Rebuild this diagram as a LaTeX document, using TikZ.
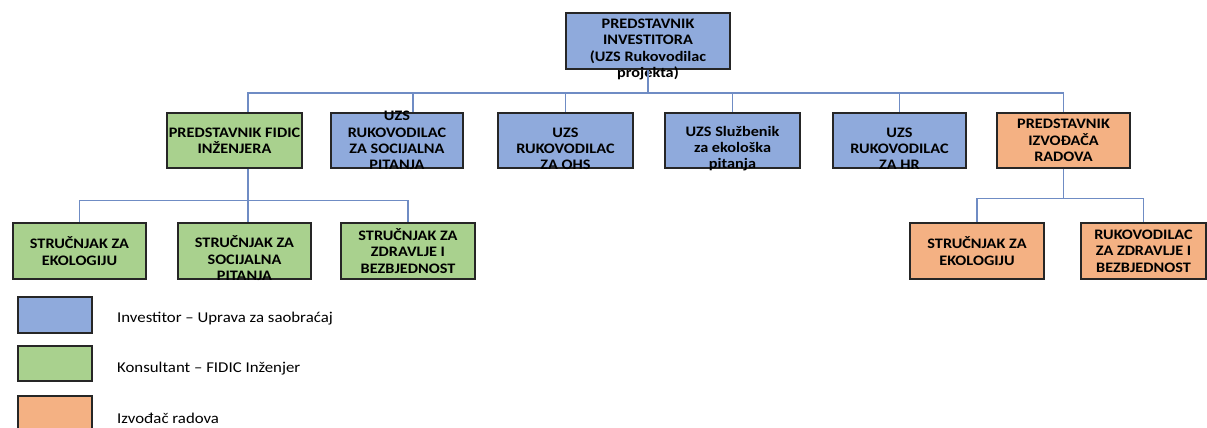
\documentclass[tikz,border=0pt]{standalone}
\usepackage{fontspec}
\setmainfont{Carlito}[FakeStretch=1.12]
\definecolor{invblue}{HTML}{8FAADC}
\definecolor{fidgreen}{HTML}{A9D18E}
\definecolor{izvorange}{HTML}{F4B183}
\definecolor{boxline}{HTML}{262626}
\definecolor{connblue}{HTML}{6F8CC4}
\newcommand{\blankline}{\rule{0pt}{10pt}\\}

\begin{document}
\begin{tikzpicture}[x=1pt,y=-1pt,
    box/.style={draw=boxline, line width=1.6pt, inner sep=0pt, minimum height=56pt},
    boxtext/.style={inner sep=0pt, align=center, font=\fontsize{14.5}{16.3}\selectfont\bfseries},
    txt/.style={label={[boxtext]center:{#1}}},
    invbox/.style={box, fill=invblue},
    fidbox/.style={box, fill=fidgreen},
    izvbox/.style={box, fill=izvorange},
    conn/.style={draw=connblue, line width=1.4pt},
    legtext/.style={anchor=west, inner sep=0pt, font=\fontsize{15}{17}\selectfont}]
  \useasboundingbox (0,0) rectangle (1207,428);

  % top
  \node [invbox, minimum width=164pt, txt={\blankline PREDSTAVNIK\\INVESTITORA\\(UZS Rukovodilac\\projekta)}]
    (inv) at (648,41) {};

  % second row
  \node [fidbox, minimum width=135pt, minimum height=55pt, txt={PREDSTAVNIK FIDIC\\INŽENJERA}]
    (fidic) at (234.5,140.5) {};
  \node [invbox, minimum width=132pt, minimum height=55pt, txt={UZS\\RUKOVODILAC\\ZA SOCIJALNA\\PITANJA}]
    (soc) at (397,140.5) {};
  \node [invbox, minimum width=135pt, minimum height=55pt, txt={\blankline UZS\\RUKOVODILAC\\ZA OHS}]
    (ohs) at (565.5,140.5) {};
  \node [invbox, minimum width=135pt, minimum height=55pt, txt={\blankline UZS Službenik\\za ekološka\\pitanja}]
    (eko) at (732.5,140.5) {};
  \node [invbox, minimum width=133pt, minimum height=55pt, txt={\blankline UZS\\RUKOVODILAC\\ZA HR}]
    (hr) at (899.5,140.5) {};
  \node [izvbox, minimum width=133pt, minimum height=55pt, txt={PREDSTAVNIK\\IZVOĐAČA\\RADOVA}]
    (izv) at (1063.5,140.5) {};

  % third row
  \node [fidbox, minimum width=133pt, txt={STRUČNJAK ZA\\EKOLOGIJU}]
    (fidEko) at (79.5,251) {};
  \node [fidbox, minimum width=133pt, txt={\blankline STRUČNJAK ZA\\SOCIJALNA\\PITANJA}]
    (fidSoc) at (244.5,251) {};
  \node [fidbox, minimum width=134pt, txt={STRUČNJAK ZA\\ZDRAVLJE I\\BEZBJEDNOST}]
    (fidZdr) at (408,251) {};
  \node [izvbox, minimum width=134pt, txt={STRUČNJAK ZA\\EKOLOGIJU}]
    (izvEko) at (977,251) {};
  \node [izvbox, minimum width=125pt, txt={RUKOVODILAC\\ZA ZDRAVLJE I\\BEZBJEDNOST}]
    (izvZdr) at (1143.5,251) {};

  % connectors
  \foreach \n in {([xshift=13.5pt]fidic.north), ([xshift=16pt]soc.north),
                  (ohs.north), (eko.north), (hr.north), (izv.north)}
    \draw [conn] (inv.south) -- ++(0,23) -| \n;
  \foreach \n in {(fidEko.north), ([xshift=3.5pt]fidSoc.north), (fidZdr.north)}
    \draw [conn] ([xshift=13.5pt]fidic.south) -- ++(0,31.5) -| \n;
  \foreach \n in {(izvEko.north), (izvZdr.north)}
    \draw [conn] (izv.south) -- ++(0,29.5) -| \n;

  % legend
  \node [invbox, minimum width=74pt, minimum height=36pt] (legInv) at (55,315) {};
  \node [fidbox, minimum width=74pt, minimum height=35pt] (legFid) at (55,363.5) {};
  \node [izvbox, minimum width=74pt, minimum height=36pt] (legIzv) at (55,414) {};
  \node [legtext] (txtInv) at (117,319) {Investitor – Uprava za saobraćaj};
  \node [legtext] (txtFid) at (117,369) {Konsultant – FIDIC Inženjer};
  \node [legtext] (txtIzv) at (117,418) {Izvođač radova};
\end{tikzpicture}
\end{document}
